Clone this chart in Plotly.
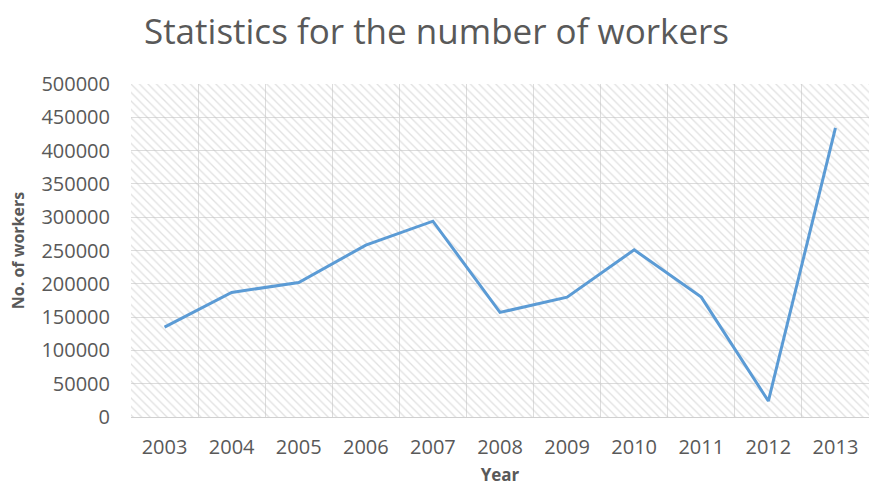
import plotly.graph_objects as go

years = ["2003", "2004", "2005", "2006", "2007", "2008", "2009", "2010", "2011", "2012", "2013"]
workers = [135000, 187000, 202000, 258000, 294000, 157000, 180000, 251000, 180000, 24000, 434000]
y_ticks = [0, 50000, 100000, 150000, 200000, 250000, 300000, 350000, 400000, 450000, 500000]

fig = go.Figure()

# background hatch (decoration) on hidden base axes
fig.add_trace(go.Bar(
    x=[0.5], y=[1], width=[1], xaxis="x", yaxis="y",
    marker=dict(color="rgba(0,0,0,0)", line=dict(width=0),
                pattern=dict(shape="\\", fgcolor="#c4c4c4", bgcolor="rgba(0,0,0,0)",
                             size=6, solidity=0.22)),
    hoverinfo="skip", showlegend=False,
))

fig.add_trace(go.Scatter(
    x=years, y=workers, mode="lines", xaxis="x2", yaxis="y2",
    line=dict(color="#5B9BD5", width=3), showlegend=False,
))

gray = "#595959"
fig.update_layout(
    width=873, height=489,
    margin=dict(l=131, r=4, t=84, b=72),
    paper_bgcolor="white", plot_bgcolor="white",
    title=dict(text="Statistics for the number of workers", x=0.5, xanchor="center",
               y=0.935, yanchor="middle",
               font=dict(family="Open Sans", size=35, color=gray)),
    xaxis=dict(range=[0, 1], visible=False, fixedrange=True),
    yaxis=dict(range=[0, 1], visible=False, fixedrange=True),
    xaxis2=dict(type="category", overlaying="x", anchor="y2", side="bottom",
                tickson="boundaries", showgrid=True, gridcolor="#dcdcdc", gridwidth=1,
                ticks="", showline=True, linecolor="#d0d0d0", linewidth=1,
                range=[-0.5, 10.5], ticklabelstandoff=12,
                tickfont=dict(family="Open Sans", size=20, color=gray),
                title=dict(text="<b>Year</b>", font=dict(family="Open Sans", size=17, color=gray),
                           standoff=10)),
    yaxis2=dict(overlaying="y", anchor="x2", side="left", range=[0, 500000],
                tickvals=y_ticks, ticktext=[str(v) for v in y_ticks],
                showgrid=True, gridcolor="#dcdcdc", gridwidth=1, zeroline=False,
                showline=False, ticks="", ticklabelstandoff=20,
                tickfont=dict(family="Open Sans", size=20, color=gray),
                title=dict(text="<b>No. of workers</b>", font=dict(family="Open Sans", size=16, color=gray),
                           standoff=12)),
)

fig.write_html("out.html")
